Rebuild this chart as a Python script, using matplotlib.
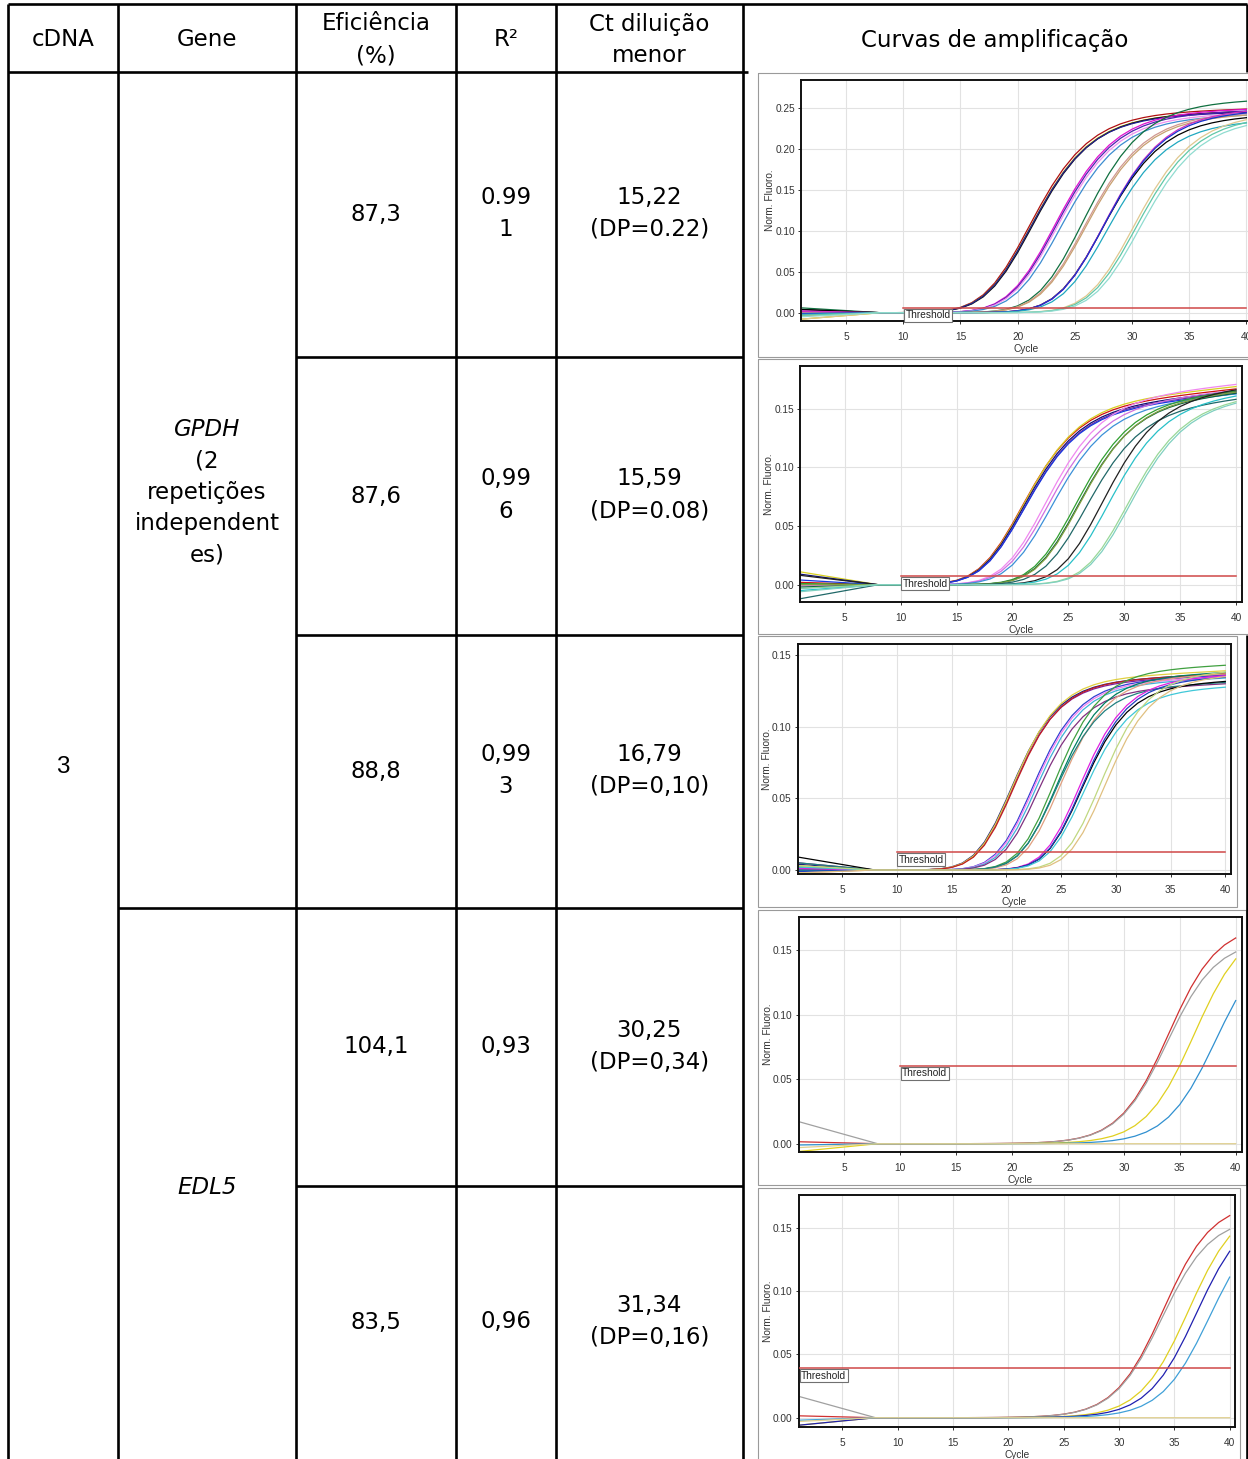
import numpy as np
import matplotlib.pyplot as plt
from matplotlib.patches import Rectangle

plt.rcParams['font.family'] = ['DejaVu Sans']

W, H = 1248, 1459
cycles = np.arange(1, 41)

# ---------------- table contents ----------------
headers = ['cDNA', 'Gene', ['Eficiência', '(%)'], 'R²', ['Ct diluição', 'menor'], 'Curvas de amplificação']
cdna = '3'
gene_gpdh = ['GPDH', '(2', 'repetições', 'independent', 'es)']
gene_edl5 = 'EDL5'
efficiency = ['87,3', '87,6', '88,8', '104,1', '83,5']
r2 = [['0.99', '1'], ['0,99', '6'], ['0,99', '3'], ['0,93'], ['0,96']]
ct_low = [['15,22', '(DP=0.22)'], ['15,59', '(DP=0.08)'], ['16,79', '(DP=0,10)'],
          ['30,25', '(DP=0,34)'], ['31,34', '(DP=0,16)']]

# ---------------- amplification curves ----------------
# each curve: (cycle at half plateau, fluorescence at cycle 40, offset at cycle 1, colour)
gpdh_1 = [
    (21.6, 0.249, -0.002, '#b01010'), (21.7, 0.246, -0.008, '#c8c000'),
    (21.8, 0.246, 0.004, '#101010'), (21.7, 0.245, 0.001, '#202090'),
    (23.8, 0.249, 0.002, '#e010d0'), (23.9, 0.247, -0.001, '#5020b0'),
    (24.0, 0.244, -0.002, '#f090f0'), (24.3, 0.242, -0.003, '#3c8cd0'),
    (26.3, 0.260, 0.006, '#107040'), (26.4, 0.245, 0.000, '#d09890'),
    (26.5, 0.243, -0.004, '#c8a070'),
    (28.0, 0.241, 0.004, '#000000'), (28.1, 0.249, 0.002, '#d030c0'),
    (28.1, 0.247, -0.001, '#1830d0'), (28.4, 0.235, -0.002, '#20a8c0'),
    (30.7, 0.243, -0.008, '#e0c890'), (30.9, 0.240, -0.003, '#60c8a8'),
    (31.2, 0.237, -0.005, '#90dcd0'),
]
gpdh_2 = [
    (21.3, 0.167, 0.002, '#d01010'), (21.4, 0.169, 0.011, '#d8d020'),
    (21.4, 0.165, 0.009, '#101070'), (21.5, 0.164, 0.000, '#7030a0'),
    (21.5, 0.163, 0.004, '#1838e0'),
    (23.4, 0.171, -0.001, '#f088f0'), (23.6, 0.166, 0.000, '#d070e0'),
    (23.9, 0.163, -0.003, '#3c90d8'),
    (26.1, 0.166, 0.001, '#30a030'), (26.3, 0.164, -0.002, '#106040'),
    (26.4, 0.165, 0.000, '#80a040'), (27.0, 0.159, -0.012, '#206868'),
    (28.5, 0.168, 0.008, '#202020'), (29.0, 0.163, -0.005, '#28c0c8'),
    (30.7, 0.160, -0.003, '#98d898'), (30.9, 0.159, -0.006, '#80d0c0'),
]
gpdh_3 = [
    (20.9, 0.137, 0.004, '#202080'), (21.0, 0.136, 0.002, '#8020a0'),
    (21.0, 0.139, 0.003, '#e0d040'), (21.1, 0.137, 0.001, '#c02020'),
    (22.8, 0.136, 0.000, '#3040d0'), (22.9, 0.135, 0.002, '#f080f0'),
    (23.1, 0.134, -0.001, '#40b0d8'), (23.3, 0.130, 0.005, '#803080'),
    (24.8, 0.143, 0.002, '#40a040'), (25.0, 0.138, 0.000, '#008060'),
    (25.3, 0.137, -0.002, '#e0a080'), (24.9, 0.131, 0.005, '#208080'),
    (27.1, 0.136, 0.001, '#e020e0'), (27.3, 0.132, 0.009, '#000000'),
    (27.3, 0.135, -0.001, '#2040c0'), (27.5, 0.128, 0.002, '#40c8d8'),
    (29.0, 0.139, 0.003, '#c0d880'), (29.4, 0.136, -0.002, '#e0c080'),
]
edl5_1 = [
    (34.0, 0.170, 0.0015, '#d03030'), (33.9, 0.158, 0.017, '#a0a0a0'),
    (36.3, 0.170, -0.006, '#e0d020'), (38.2, 0.160, -0.001, '#3090d0'),
    (99.0, 0.000, -0.003, '#e0d090'),
]
edl5_2 = [
    (34.0, 0.170, 0.0015, '#d03030'), (33.9, 0.158, 0.017, '#a0a0a0'),
    (36.3, 0.170, -0.006, '#e0d020'), (37.0, 0.165, -0.006, '#2020b0'),
    (38.2, 0.160, -0.002, '#40a0d8'), (99.0, 0.000, -0.003, '#e0d090'),
]
panel_curves = [gpdh_1, gpdh_2, gpdh_3, edl5_1, edl5_2]
thresholds = [0.006, 0.0074, 0.0123, 0.0606, 0.039]
threshold_start = [10, 10, 10, 10, 1]
y_top_tick = [0.25, 0.15, 0.15, 0.15, 0.15]
# curve shape per panel: asymmetry, slope, plateau drift
shape = [(2.5, 2.85, 0.0004), (2.5, 2.7, 0.001), (2.5, 2.3, 0.0004), (1.0, 2.2, 0.0), (1.0, 2.2, 0.0)]

# pixel layout of each screenshot: axes box (L, T, R, B), px of x=5 and x=40, px of y=0 and top tick, frame
layout = [
    ((801, 80, 1252, 321), (846, 1246.4), (312.7, 108), (758, 73, 1250, 356.5)),
    ((800, 366, 1242, 602), (844.7, 1236), (584.7, 408.7), (758, 358.5, 1250, 634)),
    ((798, 644, 1231, 874), (842, 1225.3), (870, 655), (758, 636, 1237, 907)),
    ((799, 917, 1242, 1152), (844, 1235.7), (1143.7, 950.3), (758, 909.5, 1246, 1185)),
    ((799, 1195, 1235, 1427), (842.3, 1229.7), (1417.7, 1227.7), (758, 1187.5, 1240, 1460)),
]


def amp_curve(c_half, top, start, a, s, drift):
    u_half = -np.log(2 ** (1 / a) - 1)
    m = c_half - u_half * s
    env = top + drift * (cycles - 40)
    y = env * (1 + np.exp(-(cycles - m) / s)) ** (-a)
    y = y + start * np.clip(1 - (cycles - 1) / 7.0, 0, 1)
    return y


fig = plt.figure(figsize=(W / 100, H / 100), dpi=100)
base = fig.add_axes([0, 0, 1, 1])
base.set_xlim(0, W)
base.set_ylim(H, 0)
base.axis('off')

# table grid
lw_t = 1.9
for x, y0, y1 in [(8, 4, 1459), (118, 4, 1459), (296, 4, 1459), (456, 4, 1459),
                  (556, 4, 1459), (743, 4, 1459), (1247, 4, 72), (1247, 635, 1459)]:
    base.plot([x, x], [y0, y1], color='black', lw=lw_t, solid_capstyle='butt')
for y, x0, x1 in [(4, 8, 1247), (72, 8, 748), (357, 296, 743), (635, 296, 743),
                  (908, 118, 743), (1186, 296, 743)]:
    base.plot([x0, x1], [y, y], color='black', lw=lw_t, solid_capstyle='butt')

# screenshot frames
for lay in layout:
    fx0, fy0, fx1, fy1 = lay[3]
    base.add_patch(Rectangle((fx0, fy0), fx1 - fx0, fy1 - fy0, fill=False, ec='#9a9a9a', lw=0.8))

fs = 16.5
step = 32


def put_lines(x, yc, lines, **kw):
    if isinstance(lines, str):
        lines = [lines]
    n = len(lines)
    for i, s in enumerate(lines):
        base.text(x, yc + (i - (n - 1) / 2) * step, s, ha='center', va='center', fontsize=fs, **kw)


col_x = [63, 207, 376, 506, 649.5, 995]
for x, h in zip(col_x, headers):
    put_lines(x, 40, h)

row_c = [214.5, 496, 771.5, 1047, 1322.5]
base.text(63, 767, cdna, ha='center', va='center', fontsize=17.5, family='Liberation Sans')
for i, s in enumerate(gene_gpdh):
    base.text(207, 429 + i * 31.6, s, ha='center', va='center', fontsize=fs,
              style='italic' if i == 0 else 'normal')
base.text(207, 1187, gene_edl5, ha='center', va='center', fontsize=fs, style='italic')
for yc, e, r, c in zip(row_c, efficiency, r2, ct_low):
    put_lines(col_x[2], yc, e)
    put_lines(col_x[3], yc - 1, r)
    put_lines(col_x[4], yc - 1, c)

# amplification plots
for curves, thr, tx, ytt, (a, s, drift), lay in zip(panel_curves, thresholds, threshold_start,
                                                      y_top_tick, shape, layout):
    (L, T, R, B), (x5, x40), (py0, pyt), _ = lay
    ax = fig.add_axes([L / W, 1 - B / H, (R - L) / W, (B - T) / H])
    sc = (x40 - x5) / 35
    xmin = 5 + (L - x5) / sc
    ax.set_xlim(xmin, 5 + (R - x5) / sc)
    ysc = (py0 - pyt) / ytt
    ax.set_ylim((py0 - B) / ysc, (py0 - T) / ysc)
    ax.set_xticks(np.arange(5, 41, 5))
    ax.set_yticks(np.arange(0, ytt + 0.001, 0.05))
    ax.set_yticklabels(['%.2f' % v for v in np.arange(0, ytt + 0.001, 0.05)])
    ax.grid(True, color='#e2e2e2', lw=0.8)
    ax.set_axisbelow(True)
    for c_half, top, start, col in curves:
        ax.plot(cycles, amp_curve(c_half, top, start, a, s, drift), color=col, lw=0.9)
    ax.plot([tx, 40], [thr, thr], color='#d04848', lw=1.1, zorder=4)
    ax.annotate('Threshold', xy=(max(tx, xmin), thr), xytext=(1.5, -1.8), textcoords='offset points',
                ha='left', va='top', fontsize=7.3, family='Liberation Sans', color='#222',
                annotation_clip=False,
                bbox=dict(boxstyle='square,pad=0.15', fc='white', ec='#707070', lw=0.8), zorder=5)
    for sp in ax.spines.values():
        sp.set_color('#111')
        sp.set_linewidth(1.4)
    ax.tick_params(labelsize=7.3, colors='#333', length=2.5, width=0.7, pad=2)
    ax.tick_params(axis='x', pad=5.5)
    for lab in ax.get_xticklabels() + ax.get_yticklabels():
        lab.set_family('Liberation Sans')
    ax.set_xlabel('Cycle', fontsize=7.3, color='#333', family='Liberation Sans', labelpad=1.5)
    ax.set_ylabel('Norm. Fluoro.', fontsize=7.3, color='#333', family='Liberation Sans', labelpad=0)

fig.savefig('out.png', dpi=100)
